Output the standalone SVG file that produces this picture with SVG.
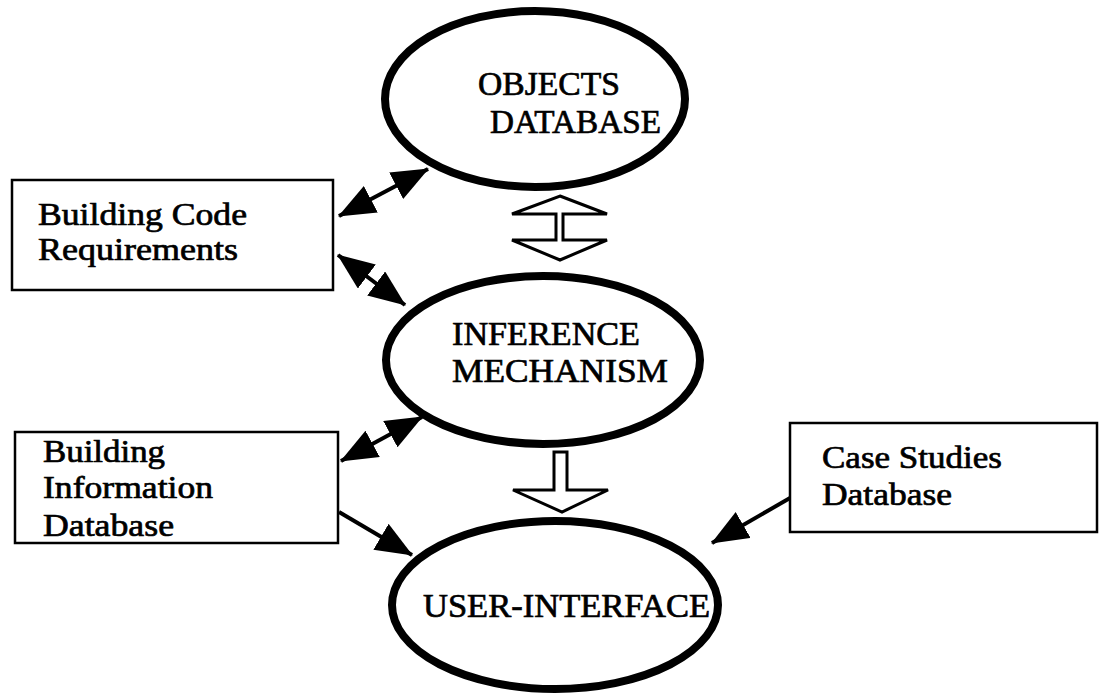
<svg xmlns="http://www.w3.org/2000/svg" width="1102" height="693" viewBox="0 0 1102 693">
<style>
.ell{fill:#fff;stroke:#000;stroke-width:8}
.box{fill:#fff;stroke:#000;stroke-width:2.5}
.t{font-family:"Liberation Serif","Times New Roman",serif;fill:#000;stroke:#000;stroke-width:0.7}
.big{font-size:34px}
.sm{font-size:32px}
.con{stroke:#000;stroke-width:4;fill:none}
.hollow{fill:#fff;stroke:#000;stroke-width:3;stroke-linejoin:miter}
</style>
<defs>
<marker id="ah" markerUnits="userSpaceOnUse" markerWidth="38" markerHeight="32" refX="36" refY="15" orient="auto-start-reverse" viewBox="0 0 38 32">
<path d="M0,0 L37,15 L0,30 z" fill="#000"/>
</marker>
</defs>
<rect width="1102" height="693" fill="#fff"/>
<g id="connectors">
<line class="con" x1="339" y1="216" x2="428" y2="169" marker-start="url(#ah)" marker-end="url(#ah)"/>
<line class="con" x1="338" y1="255" x2="405" y2="305" marker-start="url(#ah)" marker-end="url(#ah)"/>
<line class="con" x1="341" y1="461" x2="422" y2="417" marker-start="url(#ah)" marker-end="url(#ah)"/>
<line class="con" x1="339" y1="512" x2="412" y2="555" marker-end="url(#ah)"/>
<line class="con" x1="790" y1="498" x2="712" y2="543" marker-end="url(#ah)"/>
<path class="hollow" d="M560,196 L607,214 L563,214 L563,240 L607,240 L560,260 L512,240 L556,240 L556,214 L512,214 Z"/>
<path class="hollow" d="M554,452 L567,452 L567,490 L608,490 L562,512 L513,490 L554,490 Z"/>
</g>
<g id="objects-db">
<ellipse class="ell" cx="535" cy="99" rx="150" ry="88"/>
<text class="t big" x="478" y="95" textLength="142" lengthAdjust="spacingAndGlyphs">OBJECTS</text>
<text class="t big" x="490" y="133" textLength="171" lengthAdjust="spacingAndGlyphs">DATABASE</text>
</g>
<g id="inference">
<ellipse class="ell" cx="543" cy="360" rx="157" ry="84"/>
<text class="t big" x="452" y="345" textLength="188" lengthAdjust="spacingAndGlyphs">INFERENCE</text>
<text class="t big" x="452" y="382" textLength="216" lengthAdjust="spacingAndGlyphs">MECHANISM</text>
</g>
<g id="user-interface">
<ellipse class="ell" cx="555" cy="605" rx="163" ry="84"/>
<text class="t big" x="423" y="617" textLength="287" lengthAdjust="spacingAndGlyphs">USER-INTERFACE</text>
</g>
<g id="building-code">
<rect class="box" x="12" y="180" width="321" height="110"/>
<text class="t sm" x="38" y="225" textLength="209" lengthAdjust="spacingAndGlyphs">Building Code</text>
<text class="t sm" x="38" y="260" textLength="200" lengthAdjust="spacingAndGlyphs">Requirements</text>
</g>
<g id="building-info">
<rect class="box" x="15" y="432" width="323" height="111"/>
<text class="t sm" x="43" y="462" textLength="122" lengthAdjust="spacingAndGlyphs">Building</text>
<text class="t sm" x="43" y="498" textLength="170" lengthAdjust="spacingAndGlyphs">Information</text>
<text class="t sm" x="43" y="536" textLength="131" lengthAdjust="spacingAndGlyphs">Database</text>
</g>
<g id="case-studies">
<rect class="box" x="790" y="423" width="307" height="109"/>
<text class="t sm" x="822" y="468" textLength="180" lengthAdjust="spacingAndGlyphs">Case Studies</text>
<text class="t sm" x="822" y="505" textLength="130" lengthAdjust="spacingAndGlyphs">Database</text>
</g>
</svg>
